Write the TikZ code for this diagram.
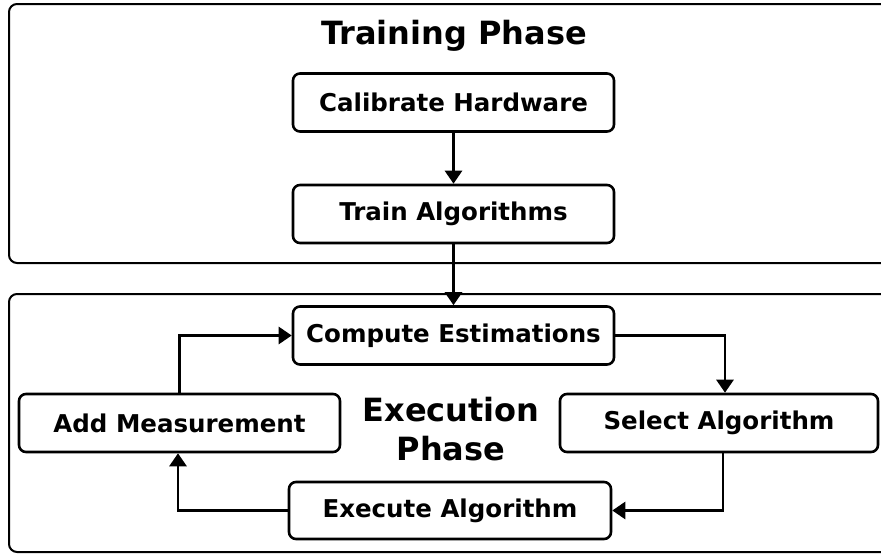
\documentclass[tikz,border=0pt]{standalone}
\usepackage{fontspec}
\setmainfont{DejaVu Sans}
\usetikzlibrary{arrows.meta}

\tikzset{
  phaseframe/.style={draw=black, line width=2pt, rounded corners=8pt},
  stepbox/.style={draw=black, line width=2.6pt, rounded corners=7pt, fill=white,
    inner sep=0pt, minimum height=58pt,
    font=\fontsize{24.5}{30}\selectfont\bfseries},
  phasetitle/.style={inner sep=0pt, align=center,
    font=\fontsize{32}{39}\selectfont\bfseries},
  flow/.style={line width=2.8pt, -{Triangle[length=13pt,width=17pt]}},
}

\begin{document}
\begin{tikzpicture}[x=1pt, y=-1pt]
  \useasboundingbox (0,0) rectangle (881,554);
  \fill[white] (0,0) rectangle (881,554);

  % phase frames, running off the right edge
  \begin{scope}
    \clip (0,0) rectangle (881,554);
    \draw[phaseframe] (9,4) rectangle (920,263);
    \draw[phaseframe] (9,294) rectangle (920,552);
  \end{scope}

  % titles
  \node[phasetitle] (ttrain) at (454,36) {Training Phase};
  \node[phasetitle] (texec) at (451,429) {Execution\\Phase};

  % steps
  \node[stepbox, minimum width=321pt] (cal)   at (453.5,102.5) {Calibrate Hardware};
  \node[stepbox, minimum width=321pt] (train) at (453.5,214)   {Train Algorithms};
  \node[stepbox, minimum width=321pt] (comp)  at (453.5,335.5) {Compute Estimations};
  \node[stepbox, minimum width=321pt] (add)   at (179.5,423)   {Add Measurement};
  \node[stepbox, minimum width=318pt] (sel)   at (719,423)     {Select Algorithm};
  \node[stepbox, minimum width=322pt, minimum height=57pt] (exe) at (450,510.5) {Execute Algorithm};

  % connectors
  \draw[flow] (cal.south) -- (train.north);
  \draw[flow] (train.south) -- (comp.north);
  \draw[flow] (comp.east) -| ([xshift=6pt]sel.north);
  \draw[flow] ([xshift=4pt]sel.south) |- (exe.east);
  \draw[flow] (exe.west) -| ([xshift=-1.5pt]add.south);
  \draw[flow] (add.north) |- (comp.west);
\end{tikzpicture}
\end{document}
